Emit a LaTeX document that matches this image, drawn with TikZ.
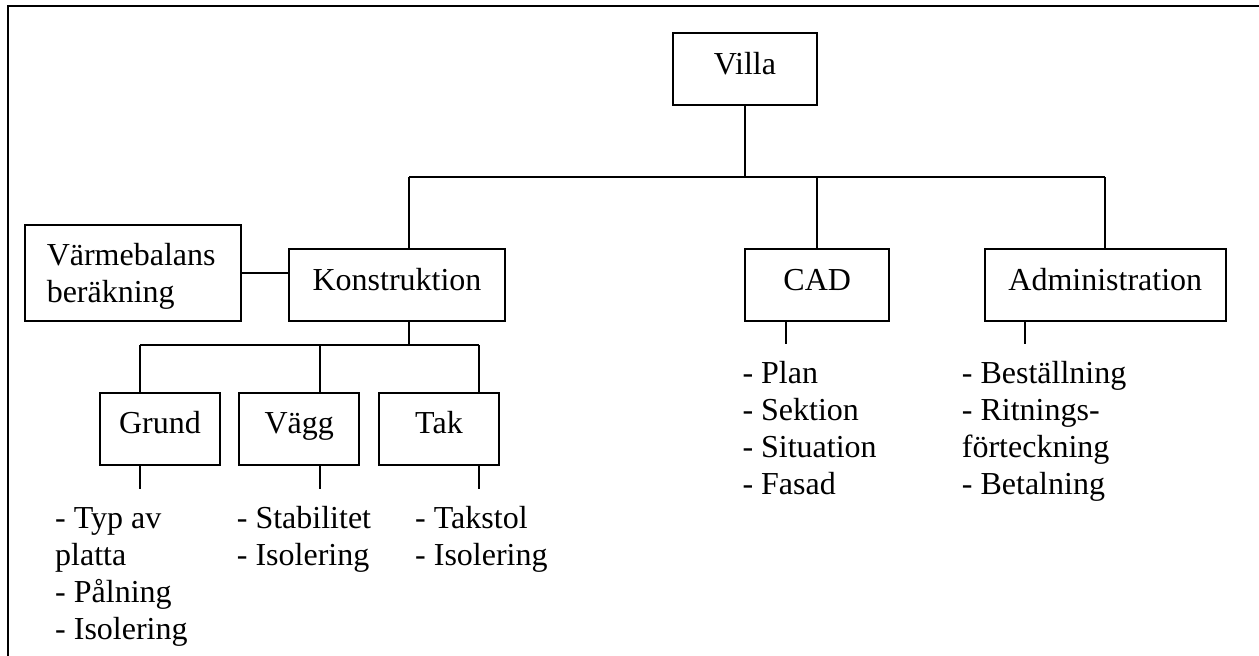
\documentclass[tikz,border=0pt]{standalone}
\usepackage{fontspec}
\setmainfont{Liberation Serif}
\begin{document}
\begin{tikzpicture}[x=1pt,y=-1pt,
  box/.style={draw,line width=1.8pt,inner sep=0pt,minimum height=72pt,
    text height=21pt,text depth=11pt,font=\fontsize{32}{37}\selectfont},
  lst/.style={align=left,inner sep=0pt,anchor=base west,font=\fontsize{32}{37}\selectfont},
  con/.style={line width=1.8pt},
  frame/.style={line width=2.6pt}]
\useasboundingbox (0,0) rectangle (1259,656);
\draw[frame] (8,656) -- (8,6) -- (1259,6);

\node[box,minimum width=144.6pt] (villa) at (745,69) {Villa};
\node[box,minimum width=216.6pt] (konstr) at (397,285) {Konstruktion};
\node[box,minimum width=144.3pt] (cad) at (817.2,285) {CAD};
\node[box,minimum width=240.7pt] (admin) at (1105.3,285) {Administration};
\node[box,minimum width=216.3pt,minimum height=96pt,align=left,text width=172.9pt,
  inner xsep=21.7pt,text height=21pt,text depth=37pt] (varme) at (133.2,273) {Värmebalans\\beräkning};
\node[box,minimum width=120pt,minimum height=72.3pt] (grund) at (160,428.8) {Grund};
\node[box,minimum width=120pt,minimum height=72.3pt] (vagg) at (299.3,428.8) {Vägg};
\node[box,minimum width=120pt,minimum height=72.3pt] (tak) at (439,428.8) {Tak};

\coordinate (hL) at (409,177);
\coordinate (hR) at (1105.3,177);
\draw[con] (villa.south) -- (villa.south |- hL);
\draw[con] (hL) -- (hR);
\draw[con] (hL) -- (hL |- konstr.north);
\draw[con] (cad.north |- hL) -- (cad.north);
\draw[con] (hR) -- (admin.north);
\draw[con] (varme.east) -- (konstr.west |- varme.east);

\coordinate (kS) at (409,321);
\coordinate (kBar) at (409,345);
\coordinate (kL) at (140,345);
\coordinate (kR) at (479,345);
\coordinate (vD) at (320,345);
\draw[con] (kS) -- (kBar);
\draw[con] (kL) -- (kR);
\draw[con] (kL) -- (kL |- grund.north);
\draw[con] (vD) -- (vD |- vagg.north);
\draw[con] (kR) -- (kR |- tak.north);

\coordinate (gs) at (140,465);
\coordinate (vs) at (320,465);
\coordinate (ts) at (479,465);
\coordinate (gsE) at (140,489);
\coordinate (vsE) at (320,489);
\coordinate (tsE) at (479,489);
\draw[con] (gs) -- (gsE);
\draw[con] (vs) -- (vsE);
\draw[con] (ts) -- (tsE);
\coordinate (cs) at (785.7,321);
\coordinate (csE) at (785.7,344);
\coordinate (as) at (1025,321);
\coordinate (asE) at (1025,344);
\draw[con] (cs) -- (csE);
\draw[con] (as) -- (asE);

\node[lst] (lgrund) at (55,639) {- Typ av\\platta\\- Pålning\\- Isolering};
\node[lst] (lvagg) at (236.7,565) {- Stabilitet\\- Isolering};
\node[lst] (ltak) at (415,565) {- Takstol\\- Isolering};
\node[lst] (lcad) at (742.3,494.3) {- Plan\\- Sektion\\- Situation\\- Fasad};
\node[lst] (ladmin) at (961.7,494.3) {- Beställning\\- Ritnings-\\förteckning\\- Betalning};
\end{tikzpicture}
\end{document}
